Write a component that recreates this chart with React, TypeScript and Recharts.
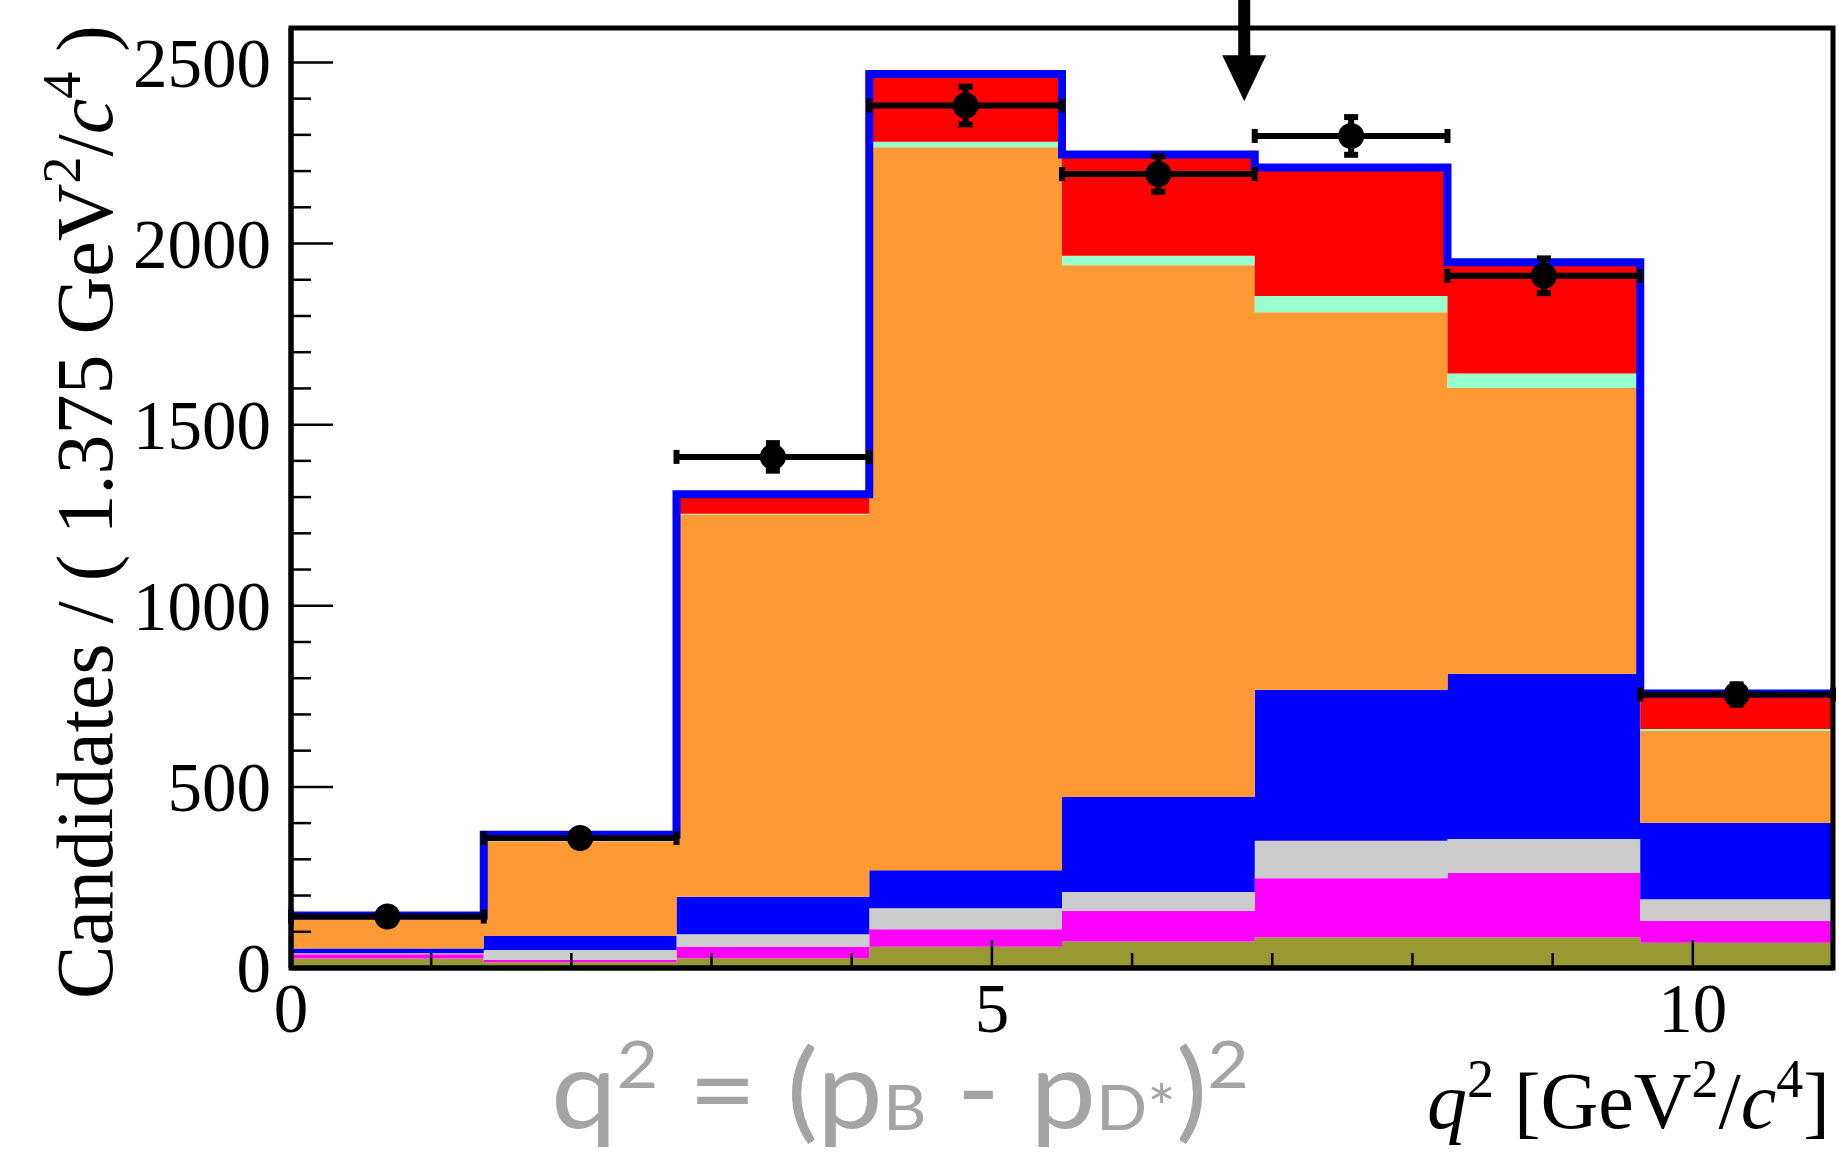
import React from 'react';
import {
  ComposedChart, Area, Line, Scatter, ErrorBar, XAxis, YAxis, ReferenceLine, ReferenceArea,
} from 'recharts';

// bin edges of q^2 (1.375 GeV^2/c^4 each)
const binEdges = [0, 1.375, 2.75, 4.125, 5.5, 6.875, 8.25, 9.625, 11];

// stacked fit components per bin, bottom to top
const olive = [26, 16, 27, 59, 73, 85, 85, 70];
const magenta = [12, 6, 32, 48, 85, 163, 177, 60];
const gray = [3, 28, 34, 58, 52, 103, 94, 60];
const blue = [13, 38, 104, 105, 262, 417, 456, 211];
const orange = [79, 262, 1055, 1996, 1468, 1042, 789, 253];
const aqua = [1, 1, 2, 15, 26, 45, 40, 6];
const red = [11, 17, 54, 187, 280, 355, 307, 98];
const fitTotal = [145, 368, 1308, 2468, 2246, 2210, 1948, 758];

// data points
const binCenters = [0.6875, 2.0625, 3.4375, 4.8125, 6.1875, 7.5625, 8.9375, 10.3125];
const dataCounts = [142, 359, 1411, 2381, 2192, 2297, 1911, 755];
const dataErr = [12, 19, 38, 52, 49, 52, 48, 28];
const binHalfWidth = 0.6875;

// arrow marker
const arrowX = 6.8;
const arrowTip = 2393;
const arrowTop = 2700;

const xTicks = [0, 1, 2, 3, 4, 5, 6, 7, 8, 9, 10, 11];
const xLabels = [0, 5, 10];
const yTicks = [0, 100, 200, 300, 400, 500, 600, 700, 800, 900, 1000, 1100, 1200, 1300, 1400, 1500,
  1600, 1700, 1800, 1900, 2000, 2100, 2200, 2300, 2400, 2500];
const yLabels = [0, 500, 1000, 1500, 2000, 2500];
const yMax = 2595;
const xMax = 11;

const COMPONENTS = [
  { key: 'olive', color: '#999933' },
  { key: 'magenta', color: '#ff00ff' },
  { key: 'gray', color: '#cccccc' },
  { key: 'blue', color: '#0000ff' },
  { key: 'orange', color: '#ff9933' },
  { key: 'aqua', color: '#99ffcc' },
  { key: 'red', color: '#ff0000' },
];

const histRows = binEdges.map((x, i) => {
  const b = Math.min(i, olive.length - 1);
  return {
    x,
    olive: olive[b], magenta: magenta[b], gray: gray[b], blue: blue[b],
    orange: orange[b], aqua: aqua[b], red: red[b], total: fitTotal[b],
  };
});

const points = binCenters.map((x, i) => ({ x, y: dataCounts[i], xErr: binHalfWidth, yErr: dataErr[i] }));

const SERIF = '"Liberation Serif", "Times New Roman", serif';
const TICK_FONT = 69;

function YTickLeft(props: any) {
  const { x, y, payload } = props;
  const major = yLabels.includes(payload.value);
  return (
    <g>
      <line x1={x} x2={x + (major ? 42 : 20)} y1={y} y2={y} stroke="#000" strokeWidth={2.5} />
      {major && (
        <text x={x - 20} y={y} dy="0.35em" textAnchor="end" fontFamily={SERIF} fontSize={TICK_FONT} fill="#000">
          {payload.value}
        </text>
      )}
    </g>
  );
}

function YTickRight(props: any) {
  const { x, y, payload } = props;
  const major = yLabels.includes(payload.value);
  return <line x1={x} x2={x - (major ? 42 : 20)} y1={y} y2={y} stroke="#000" strokeWidth={2.5} />;
}

function XTickBottom(props: any) {
  const { x, y, payload } = props;
  const major = xLabels.includes(payload.value);
  return (
    <g>
      <line x1={x} x2={x} y1={y} y2={y - (major ? 28 : 15)} stroke="#000" strokeWidth={2.5} />
      {major && (
        <text x={x} y={y + 64} textAnchor="middle" fontFamily={SERIF} fontSize={TICK_FONT} fill="#000">
          {payload.value}
        </text>
      )}
    </g>
  );
}

function XTickTop(props: any) {
  const { x, y, payload } = props;
  const major = xLabels.includes(payload.value);
  return <line x1={x} x2={x} y1={y} y2={y + (major ? 30 : 15)} stroke="#000" strokeWidth={2.5} />;
}

function Arrow(props: any) {
  const { x1, y1, x2, y2 } = props;
  const head = 46;
  const half = 22;
  return (
    <g>
      <line x1={x1} x2={x2} y1={y1} y2={y2 - head + 2} stroke="#000" strokeWidth={12} />
      <polygon points={`${x2 - half},${y2 - head} ${x2 + half},${y2 - head} ${x2},${y2}`} fill="#000" />
    </g>
  );
}

function Dot(props: any) {
  const { cx, cy } = props;
  return <circle cx={cx} cy={cy} r={13} fill="#000" />;
}

export default function App() {
  return (
    <div style={{ position: 'absolute', left: 0, top: 0, width: 1839, height: 1152, background: '#fff', overflow: 'hidden' }}>
      <ComposedChart width={1839} height={1152} data={histRows} margin={{ top: 28, right: 6, bottom: 0, left: 0 }}>
        {COMPONENTS.map((c) => (
          <Area
            key={c.key}
            dataKey={c.key}
            type="stepAfter"
            stackId="fit"
            stroke="none"
            fill={c.color}
            fillOpacity={1}
            dot={false}
            activeDot={false}
            isAnimationActive={false}
          />
        ))}
        <Line
          dataKey="total"
          type="stepAfter"
          stroke="#0000ff"
          strokeWidth={8}
          dot={false}
          activeDot={false}
          isAnimationActive={false}
        />
        <Scatter data={points} dataKey="y" shape={Dot} isAnimationActive={false}>
          <ErrorBar dataKey="xErr" direction="x" width={7} strokeWidth={6} stroke="#000" />
          <ErrorBar dataKey="yErr" direction="y" width={7} strokeWidth={6} stroke="#000" />
        </Scatter>
        <ReferenceLine
          segment={[{ x: arrowX, y: arrowTop }, { x: arrowX, y: arrowTip }]}
          ifOverflow="visible"
          shape={Arrow}
        />
        <ReferenceArea x1={0} x2={xMax} y1={0} y2={yMax} fill="none" stroke="#000" strokeWidth={5} ifOverflow="visible" />
        <XAxis
          dataKey="x"
          type="number"
          domain={[0, xMax]}
          ticks={xTicks}
          interval={0}
          height={184}
          tickSize={0}
          tickMargin={0}
          tickLine={false}
          axisLine={{ stroke: '#000', strokeWidth: 5 }}
          tick={XTickBottom}
          allowDataOverflow
        />
        <XAxis
          xAxisId="top"
          orientation="top"
          dataKey="x"
          type="number"
          domain={[0, xMax]}
          ticks={xTicks}
          interval={0}
          height={0}
          tickSize={0}
          tickMargin={0}
          tickLine={false}
          axisLine={{ stroke: '#000', strokeWidth: 5 }}
          tick={XTickTop}
          allowDataOverflow
        />
        <YAxis
          type="number"
          domain={[0, yMax]}
          ticks={yTicks}
          interval={0}
          width={291}
          tickSize={0}
          tickMargin={0}
          tickLine={false}
          axisLine={{ stroke: '#000', strokeWidth: 5 }}
          tick={YTickLeft}
          allowDataOverflow
        />
        <YAxis
          yAxisId="right"
          orientation="right"
          type="number"
          domain={[0, yMax]}
          ticks={yTicks}
          interval={0}
          width={0}
          tickSize={0}
          tickMargin={0}
          tickLine={false}
          axisLine={{ stroke: '#000', strokeWidth: 5 }}
          tick={YTickRight}
          allowDataOverflow
        />
      </ComposedChart>
      <svg width={1839} height={1152} style={{ position: 'absolute', left: 0, top: 0, pointerEvents: 'none' }}>
        <text transform="translate(112,512) rotate(-90)" textAnchor="middle" fontFamily={SERIF} fontSize={80} fill="#000">
          <tspan>Candidates / ( 1.375 GeV</tspan>
          <tspan fontSize={54} dy={-32}>2</tspan>
          <tspan dy={32}>/</tspan>
          <tspan fontStyle="italic">c</tspan>
          <tspan fontSize={54} dy={-32}>4</tspan>
          <tspan dy={32}> )</tspan>
        </text>
        <text x={1830} y={1128} textAnchor="end" fontFamily={SERIF} fontSize={80} fill="#000">
          <tspan fontStyle="italic">q</tspan>
          <tspan fontSize={54} dy={-31}>2</tspan>
          <tspan dy={31}> [GeV</tspan>
          <tspan fontSize={54} dy={-31}>2</tspan>
          <tspan dy={31}>/</tspan>
          <tspan fontStyle="italic">c</tspan>
          <tspan fontSize={54} dy={-31}>4</tspan>
          <tspan dy={31}>]</tspan>
        </text>
        <text x={551} y={1128} textLength={698} lengthAdjust="spacingAndGlyphs" fontFamily="Lato, 'Open Sans', sans-serif" fontSize={108} fill="#a2a5a4">
          <tspan>q</tspan>
          <tspan fontSize={66} dy={-40}>2</tspan>
          <tspan dy={40}> = (p</tspan>
          <tspan fontSize={62} dy={2}>B</tspan>
          <tspan dy={-2}> - p</tspan>
          <tspan fontSize={62} dy={2}>D*</tspan>
          <tspan dy={-2}>)</tspan>
          <tspan fontSize={66} dy={-40}>2</tspan>
        </text>
      </svg>
    </div>
  );
}
